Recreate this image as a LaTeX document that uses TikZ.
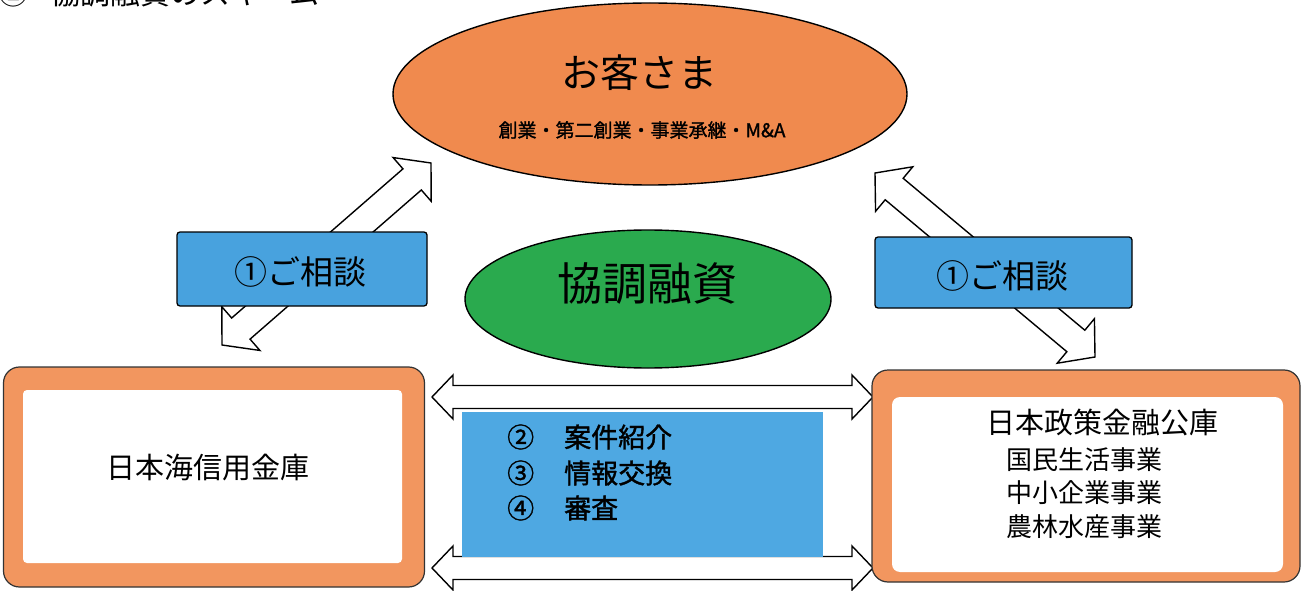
\documentclass[tikz,border=0pt]{standalone}
\usepackage{fontspec}
\newfontfamily\jp{Noto Sans CJK JP}
\newfontfamily\jpb[FakeBold=1.3]{Noto Sans CJK JP}
\usetikzlibrary{calc,shapes.geometric}
\definecolor{custorange}{RGB}{240,138,78}
\definecolor{boxorange}{RGB}{242,150,95}
\definecolor{coopgreen}{RGB}{42,170,78}
\definecolor{consblue}{RGB}{72,162,222}
\definecolor{midblue}{RGB}{78,168,226}
\newcommand\hollowarrow[5]{%
  \draw[arrowline] (#1) -- ($($(#1)!#3!(#2)$)!#4!90:(#2)$) -- ($($(#1)!#3!(#2)$)!#5!90:(#2)$)
    -- ($($(#2)!#3!(#1)$)!#5!-90:(#1)$) -- ($($(#2)!#3!(#1)$)!#4!-90:(#1)$) -- (#2)
    -- ($($(#2)!#3!(#1)$)!#4!90:(#1)$) -- ($($(#2)!#3!(#1)$)!#5!90:(#1)$)
    -- ($($(#1)!#3!(#2)$)!#5!-90:(#2)$) -- ($($(#1)!#3!(#2)$)!#4!-90:(#2)$) -- cycle;}
\begin{document}
\begin{tikzpicture}[x=1pt,y=-1pt,
  arrowline/.style={draw=black, line width=1.4pt, fill=white, line join=miter},
  bigellipse/.style={draw=black, line width=1.4pt, ellipse, inner sep=0pt},
  consbox/.style={draw=black, line width=1.3pt, fill=consblue, rounded corners=3pt, inner sep=0pt},
  outerbox/.style={draw=black!80, line width=1.2pt, fill=boxorange, rounded corners=16pt, inner sep=0pt},
  innerbox/.style={fill=white, rounded corners=4pt, inner sep=0pt},
  txt/.style={inner sep=0pt, font=\jp}
]
\useasboundingbox (0,0) rectangle (1302,591);
\fill[white] (0,0) rectangle (1302,591);
% partially visible caption at the top edge
\begin{scope}
  \clip (0,0) rectangle (1302,591);
  \node[txt, anchor=west, font=\jp\fontsize{30}{30}\selectfont] (title) at (-2,-7) {②\hspace{22pt}協調融資のスキーム};
\end{scope}

% arrow end points
\coordinate (la1) at (222,345);
\coordinate (la2) at (431,163);
\coordinate (ra1) at (875,173);
\coordinate (ra2) at (1095,357);
\coordinate (ht1) at (432,397);
\coordinate (ht2) at (873,397);
\coordinate (hb1) at (432,568);
\coordinate (hb2) at (873,568);

% diagonal consultation arrows
\hollowarrow{la1}{la2}{25pt}{29pt}{14pt}
\hollowarrow{ra1}{ra2}{25pt}{29pt}{14pt}
% horizontal arrows
\hollowarrow{ht1}{ht2}{21pt}{22pt}{11.5pt}
\hollowarrow{hb1}{hb2}{21pt}{22pt}{11.5pt}

% customer ellipse
\node[bigellipse, fill=custorange, minimum width=514pt, minimum height=182pt] (cust) at (650,94) {};
\node[txt, font=\jp\fontsize{39}{39}\selectfont] (custname) at (639,73) {お客さま};
\node[txt, font=\jpb\fontsize{19}{19}\selectfont] (custsub) at (642,130) {創業・第二創業・事業承継・M\&A};

% co-financing ellipse
\node[bigellipse, fill=coopgreen, minimum width=366pt, minimum height=138pt] (coop) at (648,299) {};
\node[txt, font=\jp\fontsize{45}{45}\selectfont] (cooptext) at (647,284) {協調融資};

% consultation boxes
\node[consbox, minimum width=250pt, minimum height=74pt] (consL) at (302,269) {};
\node[txt, font=\jp\fontsize{33}{33}\selectfont] (consLt) at (300,272) {①ご相談};
\node[consbox, minimum width=257pt, minimum height=71pt] (consR) at (1003.5,272.5) {};
\node[txt, font=\jp\fontsize{33}{33}\selectfont] (consRt) at (1002,276) {①ご相談};

% bank boxes
\node[outerbox, minimum width=421pt, minimum height=220pt] (shinkin) at (214,477) {};
\node[innerbox, minimum width=379pt, minimum height=173pt] (shinkinIn) at (212.5,476.5) {};
\node[txt, font=\jp\fontsize{29}{29}\selectfont] (shinkinT) at (208,468) {日本海信用金庫};

\node[outerbox, minimum width=428pt, minimum height=212pt] (jfc) at (1086,476) {};
\node[innerbox, rounded corners=8pt, minimum width=391pt, minimum height=175pt] (jfcIn) at (1087.5,484.5) {};
\node[txt, font=\jp\fontsize{29}{29}\selectfont] (jfcT) at (1102,422) {日本政策金融公庫};
\node[txt, anchor=west, font=\jp\fontsize{26}{26}\selectfont] (jfc1) at (1006,460) {国民生活事業};
\node[txt, anchor=west, font=\jp\fontsize{26}{26}\selectfont] (jfc2) at (1006,493) {中小企業事業};
\node[txt, anchor=west, font=\jp\fontsize{26}{26}\selectfont] (jfc3) at (1006,527) {農林水産事業};

% middle process box
\node[fill=midblue, minimum width=361pt, minimum height=145pt, inner sep=0pt] (proc) at (642.5,484.5) {};
\node[txt, anchor=west, font=\jpb\fontsize{27}{27}\selectfont] (n2) at (507,437) {②};
\node[txt, anchor=west, font=\jpb\fontsize{27}{27}\selectfont] (p2) at (564,437) {案件紹介};
\node[txt, anchor=west, font=\jpb\fontsize{27}{27}\selectfont] (n3) at (507,473) {③};
\node[txt, anchor=west, font=\jpb\fontsize{27}{27}\selectfont] (p3) at (564,473) {情報交換};
\node[txt, anchor=west, font=\jpb\fontsize{27}{27}\selectfont] (n4) at (507,508) {④};
\node[txt, anchor=west, font=\jpb\fontsize{27}{27}\selectfont] (p4) at (564,508) {審査};
\end{tikzpicture}
\end{document}
